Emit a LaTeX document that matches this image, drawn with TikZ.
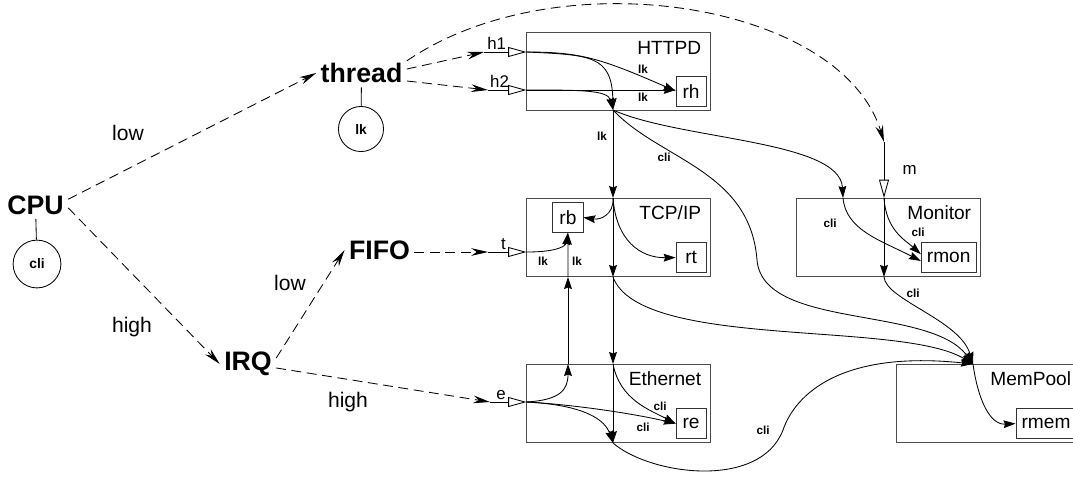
\documentclass[tikz,border=0pt]{standalone}
\usepackage{fontspec}
\setmainfont{Liberation Sans}
\usetikzlibrary{arrows.meta, positioning}

\tikzset{
  module/.style={draw=black!70, line width=0.7pt, minimum width=4.575cm, minimum height=1.95cm},
  modname/.style={anchor=north east, inner xsep=6.5pt, inner ysep=5pt, font=\fontsize{13.6}{15}\selectfont},
  resrc/.style={draw=black!80, line width=0.6pt, minimum width=0.75cm, minimum height=0.75cm, inner xsep=4pt, font=\fontsize{13.6}{15}\selectfont},
  actor/.style={inner sep=3pt, font=\fontsize{19}{21}\selectfont\bfseries},
  lockc/.style={draw, circle, line width=0.6pt, inner sep=7.5pt, font=\fontsize{9.8}{11}\selectfont\bfseries},
  prio/.style={font=\fontsize{15}{17}\selectfont},
  tagl/.style={font=\fontsize{8.3}{9}\selectfont\bfseries},
  plbl/.style={inner sep=1.5pt, font=\fontsize{12}{13}\selectfont},
  ctl/.style={line width=0.6pt, dash pattern=on 7pt off 4pt, -{Stealth[length=12pt, width=5.5pt, inset=4pt]}},
  flw/.style={line width=0.6pt, -{Stealth[length=8.5pt, width=5.5pt, inset=1pt]}},
  entry/.style={line width=0.6pt, -{Triangle[open, length=13pt, width=7pt]}},
}

\begin{document}
\begin{tikzpicture}[x=0.025cm, y=-0.025cm]
\useasboundingbox (0,0) rectangle (1073,483);

% modules
\node[module] (httpd) at (618.5,71) {};
\node[module] (tcp) at (618.5,237.5) {};
\node[module] (eth) at (618.5,403.5) {};
\node[module] (mon) at (888.5,237.5) {};
\node[module] (mem) at (988.5,403.5) {};
\node[modname, yshift=-2pt] (nhttpd) at (httpd.north east) {HTTPD};
\node[modname] (ntcp) at (tcp.north east) {TCP/IP};
\node[modname] (neth) at (eth.north east) {Ethernet};
\node[modname] (nmon) at (mon.north east) {Monitor};
\node[modname] (nmem) at (mem.north east) {MemPool};

\node[resrc, above left=0.1cm and 0.1cm of httpd.south east] (rh) {rh};
\node[resrc, below right=0.1cm and 0.65cm of tcp.north west] (rb) {rb};
\node[resrc, above left=0.1cm and 0.1cm of tcp.south east] (rt) {rt};
\node[resrc, above left=0.1cm and 0.1cm of eth.south east] (re) {re};
\node[resrc, above left=0.1cm and 0.1cm of mon.south east] (rmon) {rmon};
\node[resrc, above left=0.1cm and 0.1cm of mem.south east] (rmem) {rmem};

% tasks
\node[actor] (cpu) at (35.5,205) {CPU};
\node[actor] (thread) at (361.5,73) {thread};
\node[actor] (fifo) at (379.5,250) {FIFO};
\node[actor] (irq) at (248,364) {IRQ};
\node[lockc] (clic) at (37,264) {cli};
\node[lockc] (lkc) at (361,129) {lk};

\node[prio] (plow1) at (128,132.5) {low};
\node[prio] (phigh1) at (132,327.5) {high};
\node[prio] (plow2) at (290,282.5) {low};
\node[prio] (phigh2) at (348,402.5) {high};

% ports
\coordinate (ih1) at (484,52);
\coordinate (ih2) at (488,90);
\coordinate (it) at (488,252);
\coordinate (ie) at (490,402);
\coordinate (im) at (884,142);
\coordinate (h1in) at (ih1 -| httpd.west);
\coordinate (h2in) at (ih2 -| httpd.west);
\coordinate (tin) at (it -| tcp.west);
\coordinate (ein) at (ie -| eth.west);
\coordinate (m1) at (im |- mon.north);
\coordinate (m2) at (im |- mon.south);
\coordinate (p1) at (613,110);
\coordinate (p2) at (613,198);
\coordinate (p3) at (613,277);
\coordinate (p4) at (613,364);
\coordinate (p5) at (613,443);
\coordinate (q1) at (568,364);
\coordinate (q2) at (568,277);
\coordinate (c1) at (843,198);
\coordinate (mp) at (973,364);

\draw[line width=0.6pt] (cpu) -- (clic);
\draw[line width=0.6pt] (thread) -- (lkc);

\draw[ctl] (cpu.10) -- (thread.west);
\draw[ctl] (cpu.-5) -- (irq.west);
\draw[ctl] (irq.12) -- (fifo.west);
\draw[ctl] (irq.-8) -- (ie);
\draw[ctl] (fifo.east |- it) -- (it);
\draw[ctl] (thread.5) -- (ih1);
\draw[ctl] (thread.-10) -- (ih2);
\draw[ctl] (thread.15) .. controls (558,-42.5) and (842,2) .. (im);

\draw[entry] (ih1) -- node[plbl, pos=0.3, above] (lh1) {h1} (h1in);
\draw[entry] (ih2) -- node[plbl, pos=0.3, above] (lh2) {h2} (h2in);
\draw[entry] (it) -- node[plbl, pos=0.4, above] (lt) {t} (tin);
\draw[entry] (ie) -- node[plbl, pos=0.3, above] (le) {e} (ein);
\draw[entry] (im) -- node[plbl, midway, right=0.4cm] (lm) {m} (m1);

% HTTPD
\draw[flw] (h1in) .. controls (590,55) and (612,55) .. (p1);
\draw[flw] (h1in) .. controls (580,52) and (600,58) .. (rh.west);
\draw[flw] (h2in) -- (h2in -| rh.west);
\draw[flw] (h2in) .. controls (580,90) and (608,90) .. (p1);
\draw[flw] (p1) -- (p2);
\draw[flw] (p1) .. controls (680,140) and (840,140) .. (c1);
\draw[flw] (p1) .. controls (660,160) and (750,170) .. (757,260)
                .. controls (763,330) and (930,305) .. (mp);

% TCP/IP
\draw[flw] (p2) .. controls (614,215) and (600,220) .. (rb.east);
\draw[flw] (p2) .. controls (616,240) and (640,258) .. (rt.west);
\draw[flw] (p2) -- (p3);
\draw[flw] (p3) -- (p4);
\draw[flw] (p3) .. controls (640,350) and (900,320) .. (mp);
\draw[flw] (tin) .. controls (560,252) and (566,245) .. (rb.south);

% Ethernet
\draw[flw] (ein) .. controls (560,400) and (568,390) .. (q1);
\draw[flw] (q1) -- (q2);
\draw[flw] (q2) -- (rb.south);
\draw[flw] (ein) .. controls (580,405) and (640,415) .. (re.west);
\draw[flw] (ein) .. controls (585,405) and (605,420) .. (p5);
\draw[flw] (p4) -- (p5);
\draw[flw] (p4) .. controls (620,400) and (650,410) .. (re.west);
\draw[flw] (p5) .. controls (650,475) and (760,490) .. (783,430)
                .. controls (795,395) and (840,350) .. (mp);

% Monitor, MemPool
\draw[flw] (c1) .. controls (846,230) and (880,240) .. (rmon.187);
\draw[flw] (m1) .. controls (886,230) and (905,240) .. (rmon.173);
\draw[flw] (m1) -- (m2);
\draw[flw] (m2) .. controls (886,300) and (960,320) .. (mp);
\draw[flw] (mp) .. controls (978,400) and (990,425) .. (rmem.west);

\node[tagl] (g1) at (643,69) {lk};
\node[tagl] (g2) at (643,97) {lk};
\node[tagl] (g3) at (602,136) {lk};
\node[tagl] (g4) at (664,157) {cli};
\node[tagl] (g5) at (830,223) {cli};
\node[tagl] (g6) at (918,232) {cli};
\node[tagl] (g7) at (913,293) {cli};
\node[tagl] (g8) at (543,261) {lk};
\node[tagl] (g9) at (577,261) {lk};
\node[tagl] (g10) at (660,406) {cli};
\node[tagl] (g11) at (643,427) {cli};
\node[tagl] (g12) at (763,430) {cli};
\end{tikzpicture}
\end{document}
